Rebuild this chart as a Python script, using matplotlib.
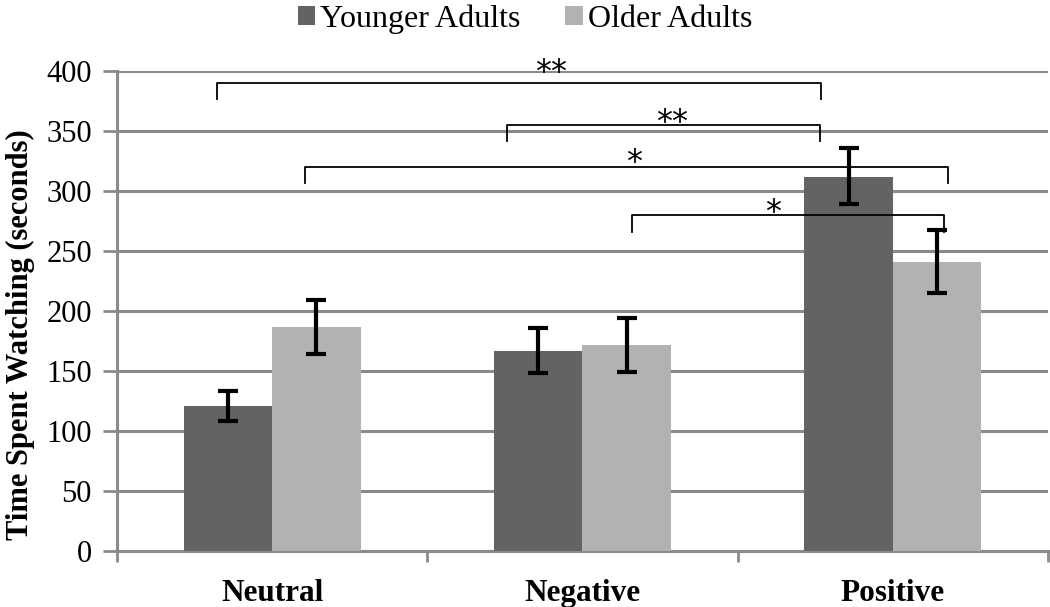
import matplotlib
matplotlib.use("Agg")
import matplotlib.pyplot as plt
import numpy as np

categories = ["Neutral", "Negative", "Positive"]
series_names = ["Younger Adults", "Older Adults"]
younger = [120.5, 167, 312]
older = [186.5, 172, 241]
younger_err_low = [108.5, 148, 289]
younger_err_high = [133.5, 185.5, 336]
older_err_low = [164, 149.5, 215]
older_err_high = [209, 194.5, 267.5]
yticks = [0, 50, 100, 150, 200, 250, 300, 350, 400]

# significance brackets: (x_left, x_right, y_top, y_end, label, label_x, label_y)
brackets = [
    (-0.177, 1.768, 389.7, 376.4, "**", 0.898, 398.5),
    (0.756, 1.765, 355.0, 341.7, "**", 1.288, 357.0),
    (0.106, 2.178, 320.3, 307.0, "*", 1.166, 323.5),
    (1.159, 2.165, 280.0, 266.0, "*", 1.614, 282.0),
]

serif = ["Liberation Serif", "DejaVu Serif"]
c_young = "#636363"
c_old = "#b2b2b2"
grid_c = "#8a8a8a"

fig = plt.figure(figsize=(10.5, 6.07), dpi=100)
ax = fig.add_axes([0.1114, 0.0923, 0.8866, 0.7907])

x = np.arange(len(categories))
w = 0.285
ax.bar(x - w / 2, younger, width=w, color=c_young, zorder=3, label=series_names[0])
ax.bar(x + w / 2, older, width=w, color=c_old, zorder=3, label=series_names[1])

yl = np.array(younger); ol = np.array(older)
ax.errorbar(x - w / 2, yl,
            yerr=[yl - np.array(younger_err_low), np.array(younger_err_high) - yl],
            fmt="none", ecolor="black", elinewidth=3, capsize=7, capthick=3, zorder=4)
ax.errorbar(x + w / 2, ol,
            yerr=[ol - np.array(older_err_low), np.array(older_err_high) - ol],
            fmt="none", ecolor="black", elinewidth=3, capsize=7, capthick=3, zorder=4)

for xl, xr, yt, ye, lab, lx, ly in brackets:
    ax.plot([xl, xl, xr, xr], [ye, yt, yt, ye], color="black", lw=1.3,
            solid_joinstyle="round", zorder=5, clip_on=False)
    ax.text(lx, ly, lab, ha="center", va="center", fontsize=23,
            family="DejaVu Sans", zorder=6, clip_on=False)

ax.set_xlim(-0.5, 2.5)
ax.set_ylim(0, 400)
ax.set_yticks(yticks)
ax.set_yticklabels([str(v) for v in yticks], family=serif, fontsize=22)
ax.yaxis.grid(True, color=grid_c, lw=2.2, zorder=0)
ax.set_axisbelow(True)

ax.set_xticks(x)
ax.set_xticklabels(categories, family=serif, fontsize=22.5, fontweight="bold")
ax.tick_params(axis="x", which="major", length=0, pad=20)
ax.set_xticks([-0.5, 0.5, 1.5, 2.5], minor=True)
ax.tick_params(axis="x", which="minor", length=8, width=2, color=grid_c, direction="out")
ax.tick_params(axis="y", length=10, width=2, color=grid_c, direction="out", pad=8)

for s in ["top", "right"]:
    ax.spines[s].set_visible(False)
for s in ["left", "bottom"]:
    ax.spines[s].set_color(grid_c)
    ax.spines[s].set_linewidth(2.2)

ax.set_ylabel("Time Spent Watching (seconds)", family=serif, fontsize=22,
              fontweight="bold")
ax.yaxis.set_label_coords(-0.088, 0.45)

leg = fig.legend(loc="upper center", bbox_to_anchor=(0.5, 1.04), ncol=2, frameon=False,
                 prop={"family": serif, "size": 23}, handlelength=0.55, handleheight=0.55,
                 handletextpad=0.15, columnspacing=1.4)

fig.savefig("out.png", dpi=100)
